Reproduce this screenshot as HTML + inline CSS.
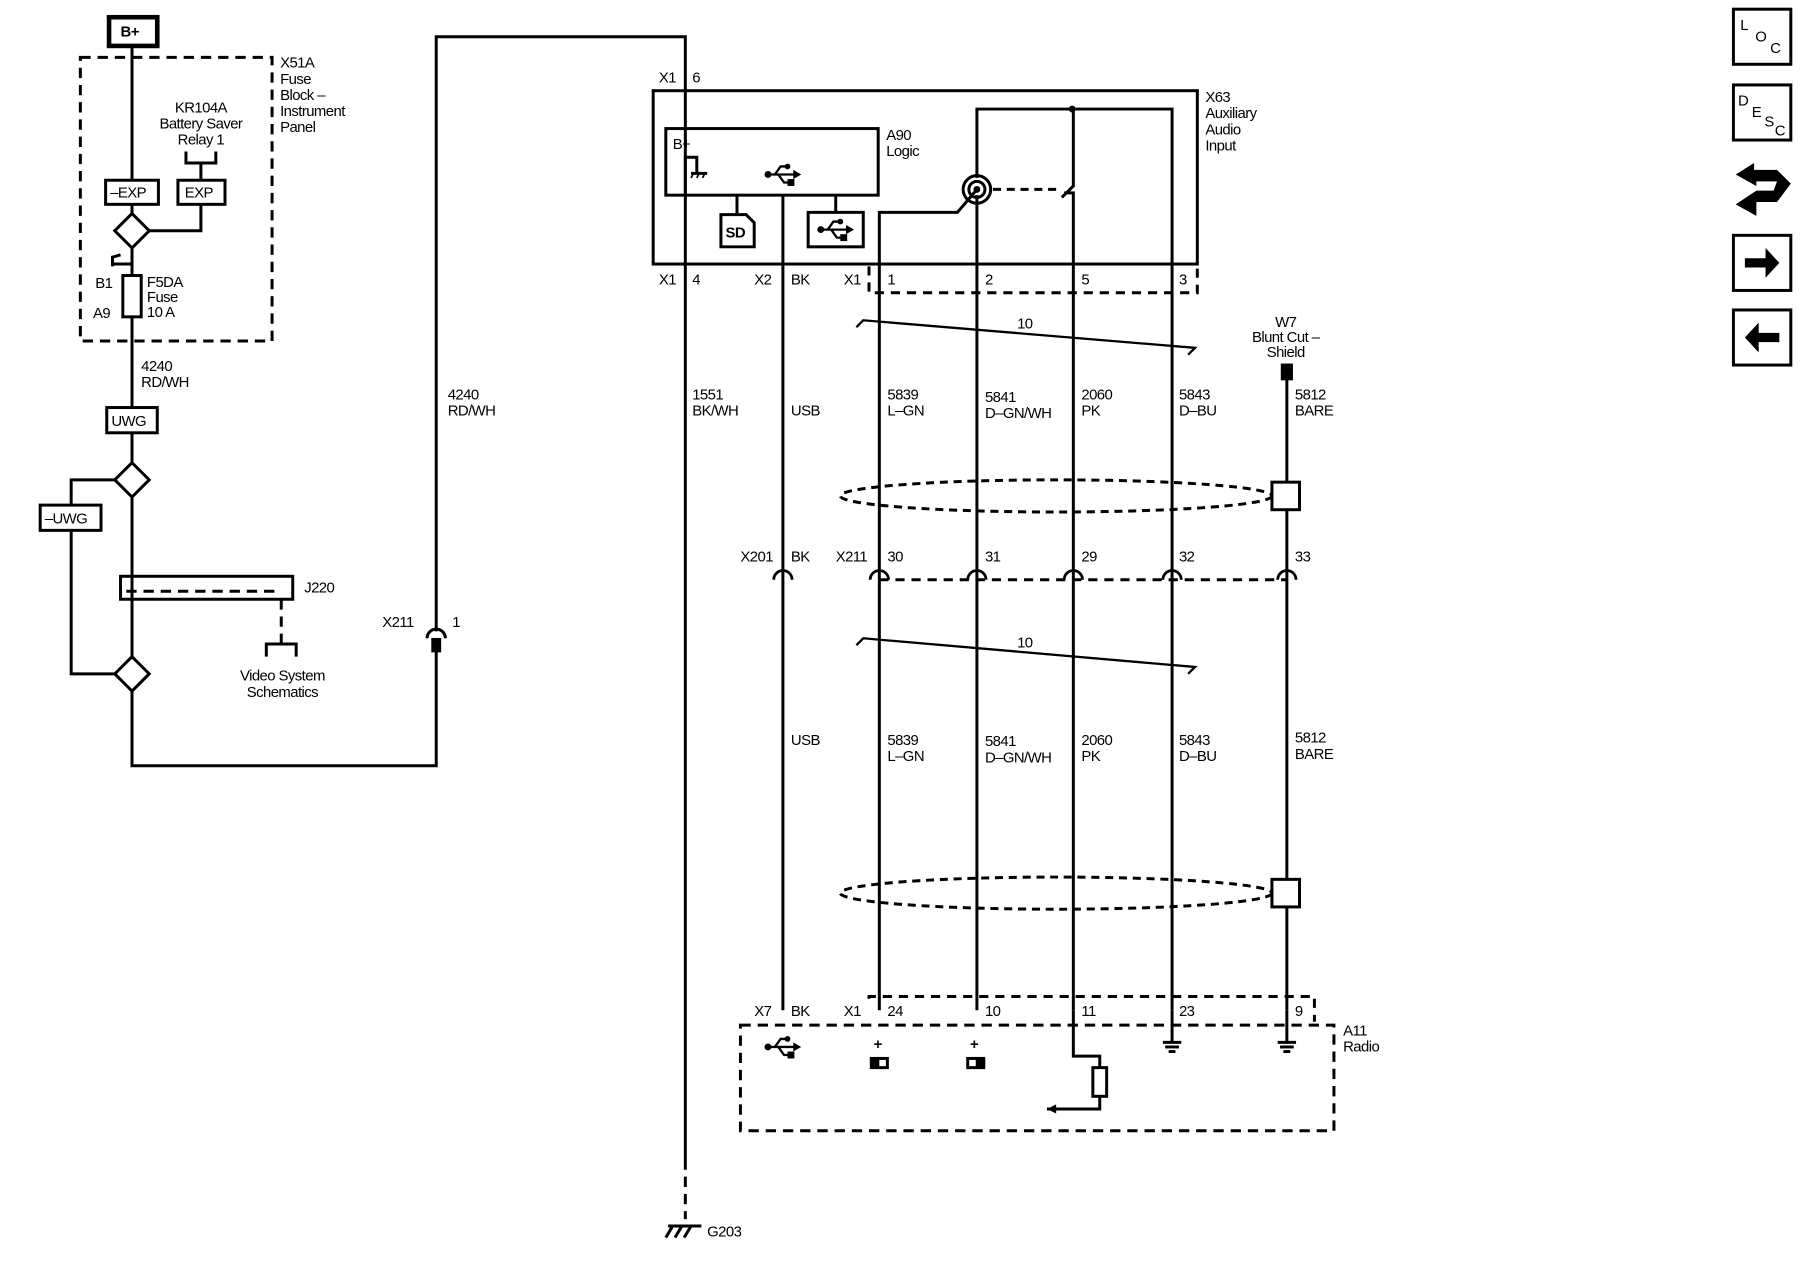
<!DOCTYPE html>
<html><head><meta charset="utf-8"><style>
html,body{margin:0;padding:0;background:#fff;width:1800px;height:1280px;overflow:hidden}
svg{display:block}
text{font-family:"Liberation Sans",sans-serif;font-size:13px;fill:#000;letter-spacing:-0.5px}
</style></head><body>
<svg width="1800" height="1280" viewBox="0 0 1568 1115" preserveAspectRatio="none" xmlns="http://www.w3.org/2000/svg">
<defs>
<g id="usb">
<line x1="-12" y1="0" x2="10" y2="0" stroke="#000" stroke-width="2"/>
<circle cx="-13" cy="0" r="3" fill="#000"/>
<polygon points="9,-4 16,0 9,4" fill="#000"/>
<polyline points="-7,0 -2,-7 3,-7" stroke="#000" stroke-width="2" fill="none"/>
<circle cx="4" cy="-7" r="2.5" fill="#000"/>
<polyline points="-4,0 1,7 5,7" stroke="#000" stroke-width="2" fill="none"/>
<rect x="4" y="4" width="6" height="6" fill="#000"/>
</g>
</defs>
<g stroke="#000" stroke-width="2.6" fill="none">
<rect x="95" y="15" width="42" height="25" stroke-width="4"/>
<rect x="70" y="50" width="167" height="247" stroke-dasharray="9,6"/>
<line x1="115" y1="40" x2="115" y2="157"/>
<rect x="92" y="157" width="46" height="21"/>
<rect x="155" y="157" width="41" height="21"/>
<polyline points="162,132 162,142 188,142 188,132"/>
<line x1="175" y1="142" x2="175" y2="157"/>
<line x1="115" y1="178" x2="115" y2="186"/>
<polygon points="115,186 130,201 115,216 100,201"/>
<polyline points="130,201 175,201 175,178"/>
<line x1="115" y1="216" x2="115" y2="240"/>
<polyline points="98,232 98,224 105,222"/>
<line x1="98" y1="230" x2="115" y2="230"/>
<rect x="107" y="240" width="16" height="36"/>
<line x1="115" y1="276" x2="115" y2="355"/>
<rect x="93" y="355" width="44" height="22"/>
<line x1="115" y1="377" x2="115" y2="403"/>
<polygon points="115,403 130,418 115,433 100,418"/>
<polyline points="100,418 62,418 62,587 100,587"/>
<rect x="35" y="440" width="53" height="22" fill="#fff"/>
<line x1="115" y1="433" x2="115" y2="572"/>
<rect x="105" y="502" width="150" height="20"/>
<line x1="110" y1="515" x2="245" y2="515" stroke-dasharray="9,6"/>
<line x1="245" y1="522" x2="245" y2="560" stroke-dasharray="9,6"/>
<polyline points="232,572 232,561 258,561 258,572"/>
<polygon points="115,572 130,587 115,602 100,587"/>
<polyline points="115,602 115,667 380,667 380,567"/>
<rect x="377" y="557" width="6" height="10" fill="#000"/>
<path d="M372,556 A8,8 0 0 1 388,556"/>
<polyline points="380,550 380,32 597,32 597,1010"/>
<line x1="597" y1="1010" x2="597" y2="1062" stroke-dasharray="9,6"/>
<line x1="582" y1="1068" x2="611" y2="1068"/>
<line x1="586" y1="1068" x2="580" y2="1078"/><line x1="594" y1="1068" x2="588" y2="1078"/><line x1="602" y1="1068" x2="596" y2="1078"/>
<rect x="569" y="79" width="474" height="151"/>
<rect x="580" y="112" width="185" height="58"/>
<polyline points="597,170 597,137 607,137 607,150"/>
<line x1="602" y1="151" x2="616" y2="151"/>
<line x1="604" y1="151" x2="602" y2="155" stroke-width="1.5"/><line x1="609" y1="151" x2="607" y2="155" stroke-width="1.5"/><line x1="614" y1="151" x2="612" y2="155" stroke-width="1.5"/>
<line x1="642" y1="170" x2="642" y2="187"/>
<path d="M628,187 H650 L657,194 V215 H628 Z"/>
<line x1="682" y1="170" x2="682" y2="880"/>
<line x1="728" y1="170" x2="728" y2="185"/>
<rect x="704" y="185" width="48" height="30"/>
<polyline points="851,155 851,95 1021,95 1021,880"/>
<polyline points="935,95 935,162 925,172"/>
<polyline points="927,168 935,168 935,880"/>
<circle cx="851" cy="165" r="12"/><circle cx="851" cy="165" r="7"/>
<line x1="851" y1="170" x2="851" y2="880"/>
<polyline points="766,880 766,185 834,185 851,165"/>
<line x1="865" y1="165" x2="925" y2="165" stroke-dasharray="7,5"/>
<polyline points="757,232 757,255 1043,255 1043,232" stroke-dasharray="8,6"/>
<polyline points="746,285 752,279 1041,303 1035,309" stroke-width="2"/>
<polyline points="746,562 752,556 1041,581 1035,587" stroke-width="2"/>
<line x1="1121" y1="318" x2="1121" y2="880"/>
<rect x="1117" y="318" width="8" height="12" fill="#000"/>
<ellipse cx="920" cy="432" rx="188" ry="14" stroke-dasharray="7,5"/>
<rect x="1108" y="420" width="24" height="24" fill="#fff"/>
<ellipse cx="920" cy="778" rx="188" ry="14" stroke-dasharray="7,5"/>
<rect x="1108" y="766" width="24" height="24" fill="#fff"/>
<line x1="766" y1="505" x2="1121" y2="505" stroke-dasharray="8,6"/>
<g stroke-width="2.4">
<path d="M674,505 A8,8 0 0 1 690,505"/><path d="M758,505 A8,8 0 0 1 774,505"/><path d="M843,505 A8,8 0 0 1 859,505"/>
<path d="M927,505 A8,8 0 0 1 943,505"/><path d="M1013,505 A8,8 0 0 1 1029,505"/><path d="M1113,505 A8,8 0 0 1 1129,505"/>
</g>
<polyline points="757,870 757,868 1145,868 1145,890" stroke-dasharray="8,6"/>
<rect x="645" y="893" width="517" height="92" stroke-dasharray="9,6"/>
<polyline points="935,880 935,920 958,920 958,930"/>
<rect x="952" y="930" width="12" height="25"/>
<polyline points="958,955 958,966 912,966"/>
<polyline points="1013,908 1029,908"/><line x1="1015" y1="912" x2="1027" y2="912"/><line x1="1018" y1="916" x2="1024" y2="916"/>
<polyline points="1113,908 1129,908"/><line x1="1115" y1="912" x2="1127" y2="912"/><line x1="1118" y1="916" x2="1124" y2="916"/>
<line x1="1021" y1="880" x2="1021" y2="908"/><line x1="1121" y1="880" x2="1121" y2="908"/>
<rect x="759" y="922" width="14" height="8"/><rect x="843" y="922" width="14" height="8"/>
<rect x="1510" y="8" width="50" height="48"/>
<rect x="1510" y="74" width="50" height="48"/>
<rect x="1510" y="205" width="50" height="48"/>
<rect x="1510" y="270" width="50" height="48"/>
</g>
<use href="#usb" x="682" y="152"/>
<use href="#usb" x="728" y="200"/>
<use href="#usb" x="682" y="912"/>
<polygon points="912,966 920,962 920,970" fill="#000"/>
<rect x="759" y="922" width="7" height="8" fill="#000"/><rect x="850" y="922" width="7" height="8" fill="#000"/>
<polygon points="1520,225 1538,225 1538,216 1550,229 1538,242 1538,233 1520,233" fill="#000"/>
<polygon points="1550,290 1532,290 1532,281 1520,294 1532,307 1532,298 1550,298" fill="#000"/>
<path d="M1512,152 L1528,142 L1528,148 L1548,148 L1560,160 L1548,176 L1530,176 L1530,188 L1512,178 L1530,166 L1545,166 L1548,158 L1530,158 L1530,162 Z" fill="#000"/>
<g fill="#000" stroke="none">
<circle cx="934" cy="95" r="3"/>
<circle cx="851" cy="165" r="3"/>
</g>
<g>
<text x="105" y="32" font-weight="bold">B+</text>
<text x="244" y="59">X51A</text><text x="244" y="73">Fuse</text><text x="244" y="87">Block –</text><text x="244" y="101">Instrument</text><text x="244" y="115">Panel</text>
<text x="175" y="98" text-anchor="middle">KR104A</text><text x="175" y="112" text-anchor="middle">Battery Saver</text><text x="175" y="126" text-anchor="middle">Relay 1</text>
<text x="96" y="172">–EXP</text><text x="161" y="172">EXP</text>
<text x="83" y="251">B1</text><text x="81" y="277">A9</text>
<text x="128" y="250">F5DA</text><text x="128" y="263">Fuse</text><text x="128" y="276">10 A</text>
<text x="123" y="323">4240</text><text x="123" y="337">RD/WH</text>
<text x="97" y="371">UWG</text><text x="39" y="456">–UWG</text>
<text x="265" y="516">J220</text>
<text x="246" y="593" text-anchor="middle">Video System</text><text x="246" y="607" text-anchor="middle">Schematics</text>
<text x="333" y="546">X211</text><text x="394" y="546">1</text>
<text x="390" y="348">4240</text><text x="390" y="362">RD/WH</text>
<text x="574" y="72">X1</text><text x="603" y="72">6</text>
<text x="1050" y="89">X63</text><text x="1050" y="103">Auxiliary</text><text x="1050" y="117">Audio</text><text x="1050" y="131">Input</text>
<text x="772" y="122">A90</text><text x="772" y="136">Logic</text>
<text x="586" y="130">B+</text>
<text x="632" y="207" font-weight="bold">SD</text>
<text x="574" y="248">X1</text><text x="603" y="248">4</text><text x="657" y="248">X2</text><text x="689" y="248">BK</text><text x="735" y="248">X1</text>
<text x="773" y="248">1</text><text x="858" y="248">2</text><text x="942" y="248">5</text><text x="1027" y="248">3</text>
<text x="886" y="286">10</text><text x="886" y="564">10</text>
<text x="1120" y="285" text-anchor="middle">W7</text><text x="1120" y="298" text-anchor="middle">Blunt Cut –</text><text x="1120" y="311" text-anchor="middle">Shield</text>
<text x="603" y="348">1551</text><text x="603" y="362">BK/WH</text>
<text x="689" y="362">USB</text>
<text x="773" y="348">5839</text><text x="773" y="362">L–GN</text>
<text x="858" y="350">5841</text><text x="858" y="364">D–GN/WH</text>
<text x="942" y="348">2060</text><text x="942" y="362">PK</text>
<text x="1027" y="348">5843</text><text x="1027" y="362">D–BU</text>
<text x="1128" y="348">5812</text><text x="1128" y="362">BARE</text>
<text x="645" y="489">X201</text><text x="689" y="489">BK</text><text x="728" y="489">X211</text>
<text x="773" y="489">30</text><text x="858" y="489">31</text><text x="942" y="489">29</text><text x="1027" y="489">32</text><text x="1128" y="489">33</text>
<text x="689" y="649">USB</text>
<text x="773" y="649">5839</text><text x="773" y="663">L–GN</text>
<text x="858" y="650">5841</text><text x="858" y="664">D–GN/WH</text>
<text x="942" y="649">2060</text><text x="942" y="663">PK</text>
<text x="1027" y="649">5843</text><text x="1027" y="663">D–BU</text>
<text x="1128" y="647">5812</text><text x="1128" y="661">BARE</text>
<text x="657" y="885">X7</text><text x="689" y="885">BK</text><text x="735" y="885">X1</text>
<text x="773" y="885">24</text><text x="858" y="885">10</text><text x="942" y="885">11</text><text x="1027" y="885">23</text><text x="1128" y="885">9</text>
<text x="1170" y="902">A11</text><text x="1170" y="916">Radio</text>
<text x="761" y="914" font-weight="bold">+</text><text x="845" y="914" font-weight="bold">+</text>
<text x="616" y="1077">G203</text>
<text x="1516" y="26" font-size="12">L</text><text x="1529" y="36" font-size="12">O</text><text x="1542" y="46" font-size="12">C</text>
<text x="1514" y="92" font-size="12">D</text><text x="1526" y="102" font-size="12">E</text><text x="1537" y="110" font-size="12">S</text><text x="1546" y="118" font-size="12">C</text>
</g>
</svg>
</body></html>
